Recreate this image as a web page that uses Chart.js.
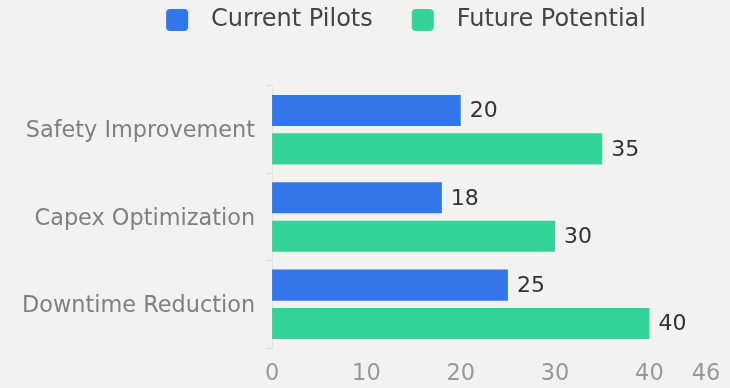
<!DOCTYPE html>
<html>
<head>
<meta charset="utf-8">
<script src="https://cdn.jsdelivr.net/npm/chart.js@4/dist/chart.umd.min.js"></script>
<style>
  html, body { margin: 0; padding: 0; background: #f2f2f2; }
  #wrap { width: 730px; height: 388px; position: relative; }
</style>
</head>
<body>
<div id="wrap"><canvas id="chart"></canvas></div>
<script>
// Pilot use cases and their scores
const categories = ['Safety Improvement', 'Capex Optimization', 'Downtime Reduction'];
const currentPilots = [20, 18, 25];
const futurePotential = [35, 30, 40];
const xTickValues = [0, 10, 20, 30, 40, 46];
const seriesNames = ['Current Pilots', 'Future Potential'];

const BLUE = '#3276ea';
const GREEN = '#34d399';
const FONT = '"DejaVu Sans", sans-serif';

// Legend swatch: rounded square inside a wider transparent strip,
// so the gaps around swatch and text can be set freely.
function swatch(color) {
  const c = document.createElement('canvas');
  c.width = 64; c.height = 22;
  const g = c.getContext('2d');
  g.fillStyle = color;
  g.beginPath();
  g.roundRect(31, 0, 22, 22, 4);
  g.fill();
  return c;
}
const swatches = [swatch(BLUE), swatch(GREEN)];

// Extra room under the legend, and the legend row nudged right
const legendPlacement = {
  id: 'legendPlacement',
  beforeInit(chart) {
    const fit = chart.legend.fit;
    chart.legend.fit = function () { fit.call(this); this.height += 44; };
  },
  afterLayout(chart) {
    chart.legend.left += 32;
    chart.legend.right += 32;
  }
};

// Value text at the end of each bar
const valueLabels = {
  id: 'valueLabels',
  afterDatasetsDraw(chart) {
    const ctx = chart.ctx;
    ctx.save();
    ctx.font = '22px ' + FONT;
    ctx.fillStyle = '#333333';
    ctx.textBaseline = 'middle';
    ctx.textAlign = 'left';
    chart.data.datasets.forEach((ds, i) => {
      chart.getDatasetMeta(i).data.forEach((bar, j) => {
        ctx.fillText(String(ds.data[j]), bar.x + 9, bar.y + 1);
      });
    });
    ctx.restore();
  }
};

new Chart(document.getElementById('chart'), {
  type: 'bar',
  data: {
    labels: categories,
    datasets: [
      { label: seriesNames[0], data: currentPilots, backgroundColor: BLUE,
        categoryPercentage: 0.88, barPercentage: 0.81 },
      { label: seriesNames[1], data: futurePotential, backgroundColor: GREEN,
        categoryPercentage: 0.88, barPercentage: 0.81 }
    ]
  },
  options: {
    indexAxis: 'y',
    responsive: true,
    maintainAspectRatio: false,
    animation: false,
    layout: { padding: { left: 11, right: 24, top: 0, bottom: 0 } },
    plugins: {
      legend: {
        position: 'top',
        labels: {
          usePointStyle: true,
          pointStyleWidth: 64,
          padding: 8,
          color: '#444444',
          font: { family: FONT, size: 24 },
          generateLabels(chart) {
            return Chart.defaults.plugins.legend.labels.generateLabels(chart)
              .map((item, i) => Object.assign(item, { pointStyle: swatches[i] }));
          }
        }
      },
      tooltip: { enabled: false }
    },
    scales: {
      x: {
        min: 0,
        max: 46,
        afterBuildTicks(scale) { scale.ticks = xTickValues.map(v => ({ value: v })); },
        grid: { display: false, drawTicks: true, tickLength: 13 },
        border: { display: false },
        ticks: { color: '#999999', padding: 0, font: { family: FONT, size: 22.5 } }
      },
      y: {
        grid: { drawOnChartArea: false, color: '#dcdcdc', tickLength: 6 },
        border: { color: '#e4e4e4' },
        ticks: { color: '#808080', padding: 11, labelOffset: 2, font: { family: FONT, size: 22.4 } }
      }
    }
  },
  plugins: [legendPlacement, valueLabels]
});
</script>
</body>
</html>
